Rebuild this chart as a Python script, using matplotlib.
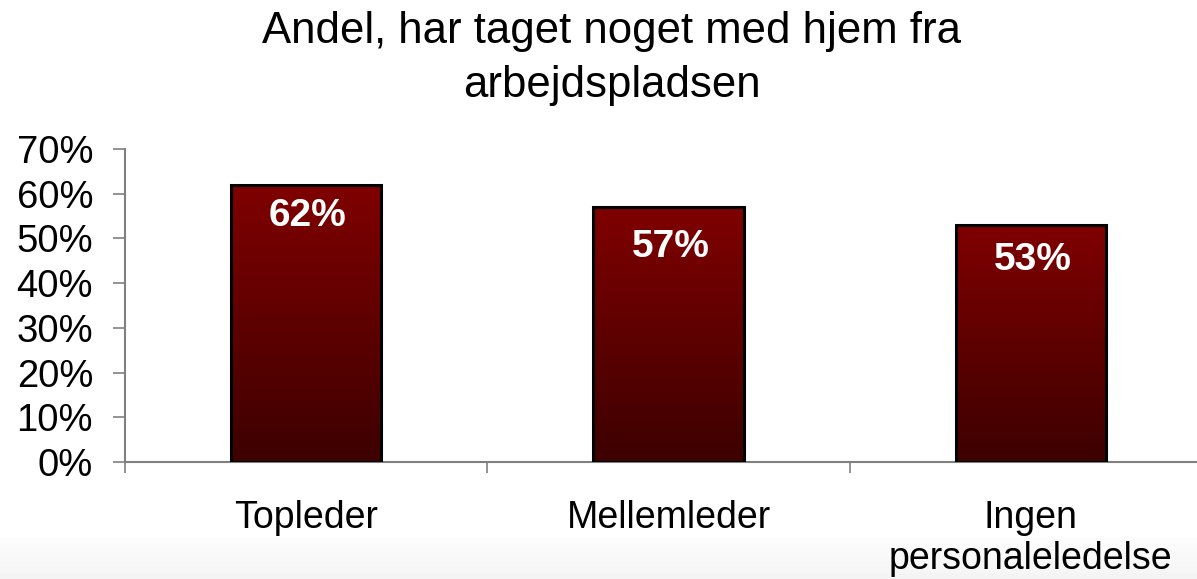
import numpy as np
import matplotlib.pyplot as plt
from matplotlib.ticker import PercentFormatter

categories = ['Topleder', 'Mellemleder', 'Ingen\npersonaleledelse']
values = [62, 57, 53]
bar_labels = ['62%', '57%', '53%']
title = 'Andel, har taget noget med hjem fra\narbejdspladsen'

plt.rcParams['font.family'] = ['Liberation Sans', 'DejaVu Sans']

W, H = 1197, 579
fig = plt.figure(figsize=(W / 100, H / 100), dpi=100)

# faint grey shading at the very bottom of the slide
bg = fig.add_axes([0, 0, 1, 1], zorder=-10)
shade = np.ones((100, 1))
shade[:7] = np.linspace(0.96, 0.99, 7)[:, None]
bg.imshow(np.dstack([shade] * 3), extent=(0, 1, 0, 1), aspect='auto', origin='lower')
bg.axis('off')

ax = fig.add_axes([125 / W, 1 - 462 / H, (1212 - 125) / W, (462 - 149) / H])
ax.set_facecolor('none')

x = np.arange(len(categories))
bw = 0.415
grad = np.linspace(0, 1, 256)[:, None]
top = np.array([0.50, 0.0, 0.0])
bottom = np.array([0.24, 0.0, 0.0])
label_drop = [2.9, 4.9, 3.8]  # how far each label sits below its bar top
for xi, v, lab, d in zip(x, values, bar_labels, label_drop):
    cols = bottom + (top - bottom) * grad
    img = np.dstack([cols[:, 0:1], cols[:, 1:2], cols[:, 2:3]])
    ax.imshow(img, extent=(xi - bw / 2, xi + bw / 2, 0, v), aspect='auto',
              origin='lower', zorder=2)
    ax.bar(xi, v, width=bw, facecolor='none', edgecolor='black', linewidth=2.2, zorder=3)
    ax.text(xi + 0.005, v - d, lab, ha='center', va='top', color='white',
            fontsize=28, fontweight='bold', zorder=4)

ax.set_xlim(-0.5, 2.5)
ax.set_ylim(0, 70)
ax.set_yticks(np.arange(0, 71, 10))
ax.yaxis.set_major_formatter(PercentFormatter(decimals=0))
ax.tick_params(axis='y', direction='out', length=9, width=1.2, color='#808080',
               labelsize=27.5, pad=14)

ax.set_xticks([-0.5, 0.5, 1.5, 2.5])
ax.set_xticklabels([])
ax.set_xticks(x, minor=True)
ax.set_xticklabels(categories, minor=True, linespacing=1.25)
ax.tick_params(axis='x', which='major', direction='out', length=8, width=1.2, color='#808080')
ax.tick_params(axis='x', which='minor', length=0, pad=27, labelsize=27)

for s in ['top', 'right']:
    ax.spines[s].set_visible(False)
for s in ['left', 'bottom']:
    ax.spines[s].set_color('#808080')
    ax.spines[s].set_linewidth(1.5)
ax.spines['left'].set_bounds(0, 70)
ax.spines['bottom'].set_position(('data', 0))

fig.text(612 / W, 1 - 11 / H, title, ha='center', va='top', fontsize=31.5, linespacing=1.4)

fig.savefig('out.png', dpi=100)
